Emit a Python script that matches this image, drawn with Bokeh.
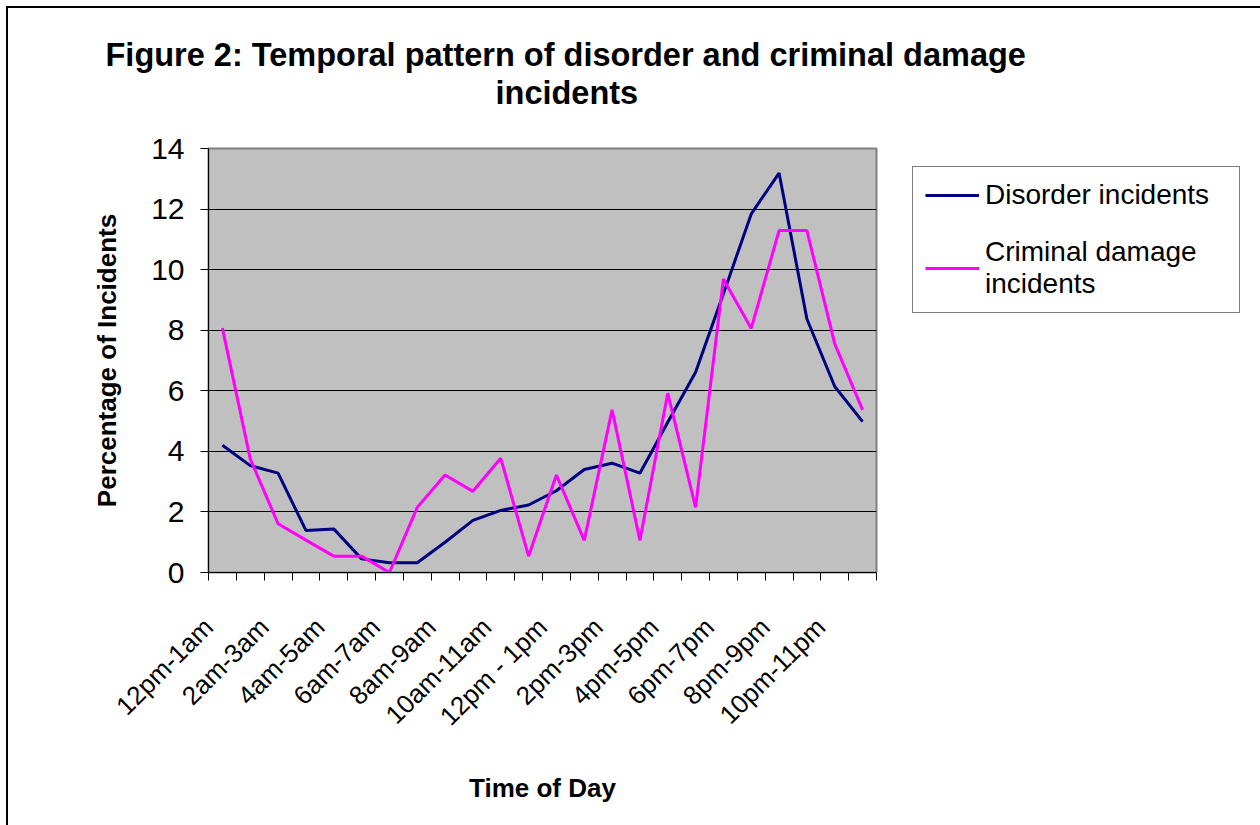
import math
from bokeh.plotting import figure
from bokeh.models import Range1d, FixedTicker, Legend, LegendItem, Title
from bokeh.embed import file_html
from bokeh.resources import INLINE

# ---- data ----
time_labels = ["12pm-1am", "1am-2am", "2am-3am", "3am-4am", "4am-5am", "5am-6am",
               "6am-7am", "7am-8am", "8am-9am", "9am-10am", "10am-11am", "11am-12pm",
               "12pm - 1pm", "1pm-2pm", "2pm-3pm", "3pm-4pm", "4pm-5pm", "5pm-6pm",
               "6pm-7pm", "7pm-8pm", "8pm-9pm", "9pm-10pm", "10pm-11pm", "11pm-12am"]
disorder = [4.2, 3.53, 3.28, 1.39, 1.44, 0.45, 0.32, 0.32, 1.0, 1.72, 2.05, 2.23,
            2.7, 3.4, 3.61, 3.28, 4.96, 6.61, 9.2, 11.84, 13.19, 8.37, 6.14, 4.98]
criminal = [8.07, 3.75, 1.61, 1.07, 0.54, 0.54, 0.0, 2.15, 3.22, 2.68, 3.77, 0.54,
            3.22, 1.06, 5.37, 1.06, 5.92, 2.15, 9.69, 8.06, 11.29, 11.29, 7.55, 5.37]
y_ticks = [0, 2, 4, 6, 8, 10, 12, 14]
series_names = ["Disorder incidents", "Criminal damage\nincidents"]
title_lines = ["Figure 2: Temporal pattern of disorder and criminal damage", "incidents"]

idx = list(range(len(time_labels)))
shown = idx[::2]
bounds = [k - 0.5 for k in range(len(idx) + 1)]
label_ticks = [k - 0.5 for k in shown]

FONT = "Liberation Sans"

p = figure(frame_width=668, frame_height=424, x_range=Range1d(-0.5, len(idx) - 0.5),
           y_range=Range1d(0, 14), output_backend="svg", toolbar_location=None,
           min_border_left=200, min_border_right=0, min_border_top=140,
           min_border_bottom=256, title=None)
p.styles = {"border": "2px solid #000", "margin-left": "6px", "margin-top": "6px"}
p.background_fill_color = "#C0C0C0"
p.border_fill_color = "white"
p.outline_line_color = "#808080"
p.outline_line_width = 2

# x axis
xa = p.xaxis[0]
xa.ticker = FixedTicker(ticks=label_ticks, minor_ticks=bounds)
xa.major_label_overrides = {t: time_labels[k] for t, k in zip(label_ticks, shown)}
xa.major_label_orientation = math.pi / 4
xa.major_tick_line_color = None
xa.minor_tick_in = 0
xa.minor_tick_out = 8
xa.minor_tick_line_color = "black"
xa.axis_line_color = "black"
xa.major_label_text_font = FONT
xa.major_label_text_font_size = "26px"
xa.major_label_text_color = "black"
xa.major_label_standoff = 42
xa.axis_label = "Time of Day"
xa.axis_label_text_font = FONT
xa.axis_label_text_font_style = "bold"
xa.axis_label_text_font_size = "26px"
xa.axis_label_text_color = "black"
xa.axis_label_standoff = 28

# y axis
ya = p.yaxis[0]
ya.ticker = FixedTicker(ticks=y_ticks)
ya.major_tick_in = 0
ya.major_tick_out = 8
ya.major_tick_line_color = "black"
ya.minor_tick_line_color = None
ya.axis_line_color = "black"
ya.major_label_text_font = FONT
ya.major_label_text_font_size = "30px"
ya.major_label_text_color = "black"
ya.major_label_standoff = 16
ya.axis_label = "Percentage of Incidents"
ya.axis_label_text_font = FONT
ya.axis_label_text_font_style = "bold"
ya.axis_label_text_font_size = "26px"
ya.axis_label_text_color = "black"
ya.axis_label_standoff = 26

p.xgrid.grid_line_color = None
p.ygrid.ticker = FixedTicker(ticks=y_ticks)
p.ygrid.grid_line_color = "black"
p.ygrid.grid_line_width = 1

r1 = p.line(x=idx, y=disorder, line_color="#000080", line_width=3)
r2 = p.line(x=idx, y=criminal, line_color="#FF00FF", line_width=3)

legend = Legend(items=[LegendItem(label=series_names[0], renderers=[r1]),
                       LegendItem(label=series_names[1], renderers=[r2])],
                location=(36, 259), margin=13, padding=12, spacing=25,
                glyph_width=54, label_standoff=6, label_width=242,
                border_line_color="black", border_line_width=1,
                background_fill_color="white",
                label_text_font=FONT, label_text_font_size="28px",
                label_text_line_height=1.27,
                label_text_color="black")
p.add_layout(legend, "right")

spacer = Title(text=" ", text_font=FONT, text_font_size="32px", standoff=0)
p.add_layout(spacer, "above")
t2 = Title(text=title_lines[1], align="left", text_font=FONT, text_font_size="32.5px",
           text_font_style="bold", text_color="black", offset=287, standoff=0)
p.add_layout(t2, "above")
t1 = Title(text=title_lines[0], align="left",
           text_font=FONT, text_font_size="32.5px", text_font_style="bold",
           text_color="black", offset=-103, standoff=0)
p.add_layout(t1, "above")

open("out.html", "w").write(file_html(p, INLINE))
